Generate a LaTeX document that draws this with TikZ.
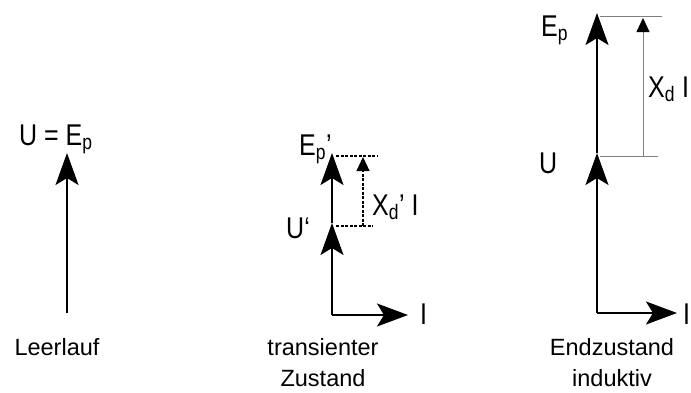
\documentclass[tikz,border=0pt]{standalone}
\usepackage{fontspec}
\setmainfont{Liberation Sans}
\usepackage{graphicx}
\usetikzlibrary{arrows.meta}
\newcommand\tall[1]{\scalebox{1}[1.2]{#1}}
\begin{document}
\begin{tikzpicture}[x=1pt,y=-1pt,
  vec/.style={line width=1.8pt,-{Stealth[length=32pt,width=23pt,inset=7pt]}},
  ax/.style={line width=1.8pt,-{Stealth[length=31pt,width=23pt,inset=7pt]}},
  dashln/.style={line width=1.2pt,dash pattern=on 3pt off 1.5pt},
  dasharr/.style={dashln,-{Triangle[length=14pt,width=13pt]}},
  thinln/.style={gray,line width=0.8pt},
  thinarr/.style={thinln,-{Triangle[length=14pt,width=13pt,color=black]}},
  lab/.style={inner sep=0pt,anchor=base west,font=\fontsize{25}{25}\selectfont},
  captxt/.style={inner sep=0pt,anchor=base,font=\fontsize{23.5}{31}\selectfont,align=center}]
\useasboundingbox (0,0) rectangle (691,392);
% Leerlauf
\coordinate (a0) at (67,313);
\coordinate (a1) at (67,153);
\draw[vec] (a0) -- (a1);
\node[lab] (aL) at (19,145) {\tall{U = E\textsubscript{p}}};
\node[captxt] (aC) at (57,355) {Leerlauf};
% transienter Zustand
\coordinate (b0) at (332,315);
\coordinate (bU) at (332,223);
\coordinate (bE) at (332,153);
\coordinate (bI) at (408,315);
\draw[vec] (b0) -- (bU);
\draw[vec] (bU) -- (bE);
\draw[ax] (b0) -- (bI);
\coordinate (bTl) at (336,156);
\coordinate (bTr) at (377,156);
\coordinate (bBl) at (336,226);
\coordinate (bBr) at (373,226);
\coordinate (bAb) at (363,226);
\coordinate (bAt) at (363,157);
\draw[dashln] (bTl) -- (bTr);
\draw[dashln] (bBl) -- (bBr);
\draw[dasharr] (bAb) -- (bAt);
\node[lab] (bEl) at (299,155) {\tall{E\textsubscript{p}’}};
\node[lab] (bUl) at (286,238) {\tall{U‘}};
\node[lab] (bXl) at (372,215) {\tall{X\textsubscript{d}’ I}};
\node[lab] (bIl) at (420,324) {\tall{I}};
\node[captxt] (bC) at (323,386) {transienter\\Zustand};
% Endzustand induktiv
\coordinate (c0) at (597,313);
\coordinate (cU) at (597,153);
\coordinate (cE) at (597,13);
\coordinate (cI) at (677,313);
\draw[vec] (c0) -- (cU);
\draw[vec] (cU) -- (cE);
\draw[ax] (c0) -- (cI);
\coordinate (cTl) at (600,16);
\coordinate (cTr) at (662,16);
\coordinate (cBl) at (600,156);
\coordinate (cBr) at (658,156);
\coordinate (cAb) at (643,156);
\coordinate (cAt) at (643,18);
\draw[thinln] (cTl) -- (cTr);
\draw[thinln] (cBl) -- (cBr);
\draw[thinarr] (cAb) -- (cAt);
\node[lab] (cEl) at (541,36) {\tall{E\textsubscript{p}}};
\node[lab] (cUl) at (539,173) {\tall{U}};
\node[lab] (cXl) at (648,97) {\tall{X\textsubscript{d} I}};
\node[lab] (cIl) at (683,324) {\tall{I}};
\node[captxt] (cC) at (612,386) {Endzustand\\induktiv};
\end{tikzpicture}
\end{document}
